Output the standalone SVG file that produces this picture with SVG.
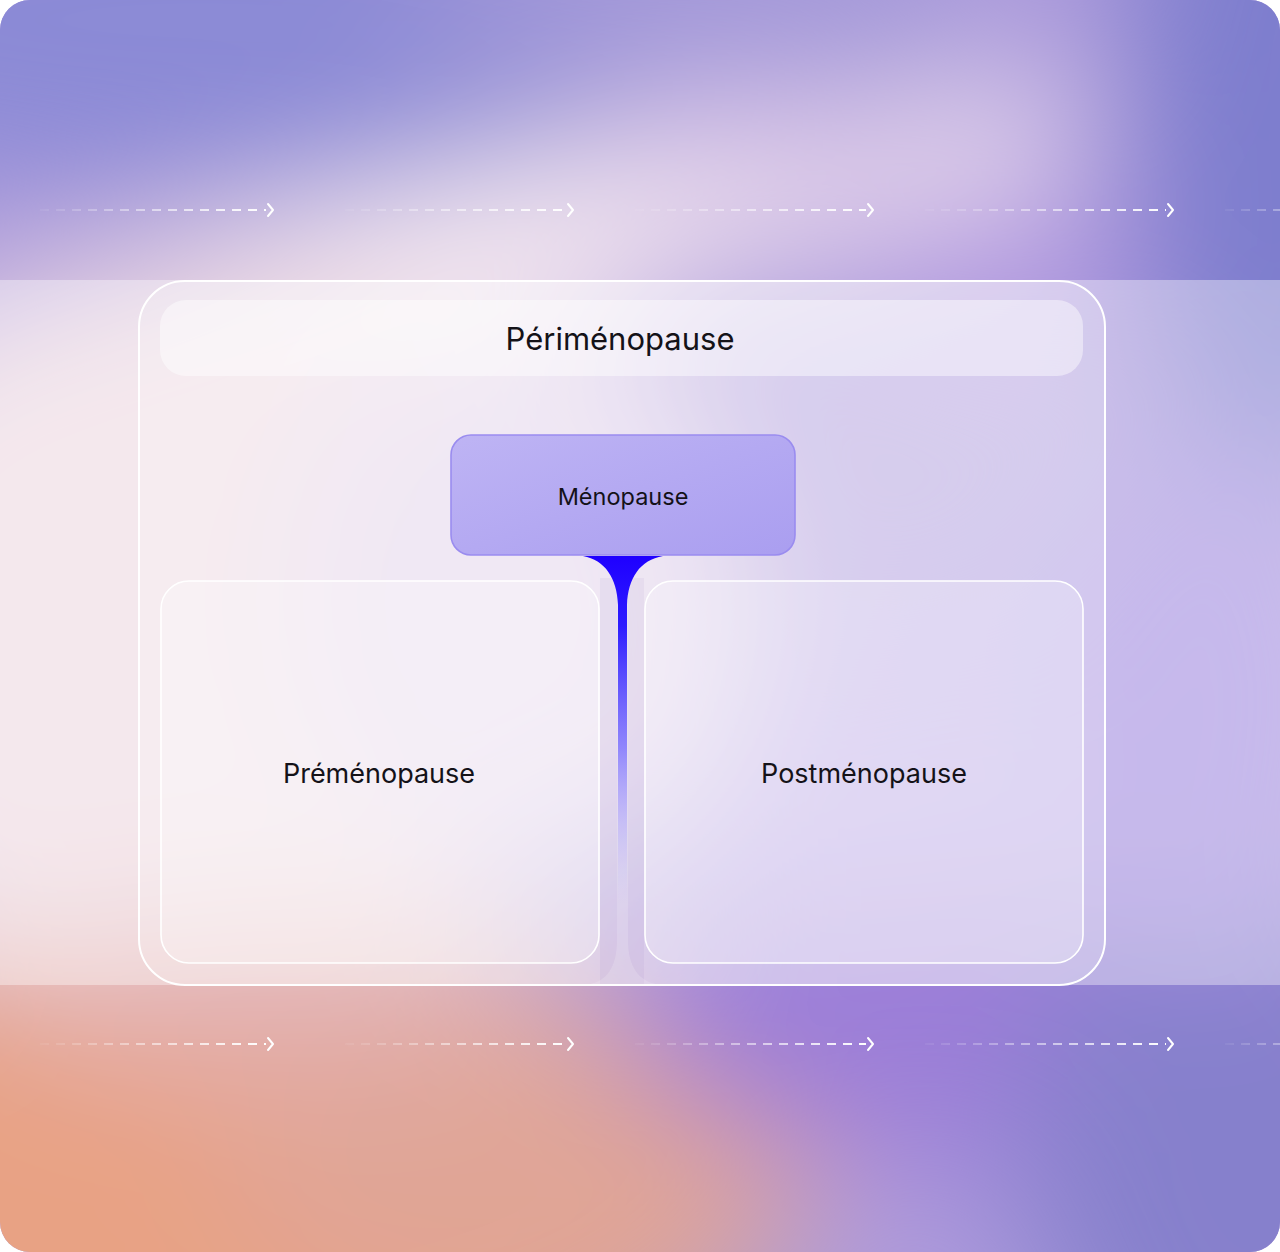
<svg xmlns="http://www.w3.org/2000/svg" width="1280" height="1252" viewBox="0 0 1280 1252">
<defs>
<style>
.lbl{font-family:Inter,"Open Sans","Liberation Sans",sans-serif;fill:#141218;text-anchor:middle;dominant-baseline:central}
.box{fill:#ffffff;fill-opacity:0.26;stroke:#ffffff;stroke-width:1.6}
.dash{fill:none;stroke-width:2;stroke-dasharray:9 7}
.chev{fill:none;stroke:#ffffff;stroke-width:2;stroke-linecap:round;stroke-linejoin:round}
</style>
<clipPath id="clip"><rect x="0" y="0" width="1280" height="1252" rx="30"/></clipPath>
<filter id="blur" x="-50%" y="-50%" width="200%" height="200%"><feGaussianBlur stdDeviation="70"/></filter>
<linearGradient id="d1" gradientUnits="userSpaceOnUse" x1="40" y1="0" x2="266" y2="0"><stop offset="0" stop-color="#fff" stop-opacity="0.05"/><stop offset="1" stop-color="#fff" stop-opacity="1"/></linearGradient>
<linearGradient id="d2" gradientUnits="userSpaceOnUse" x1="345" y1="0" x2="566" y2="0"><stop offset="0" stop-color="#fff" stop-opacity="0.05"/><stop offset="1" stop-color="#fff" stop-opacity="1"/></linearGradient>
<linearGradient id="d3" gradientUnits="userSpaceOnUse" x1="635" y1="0" x2="866" y2="0"><stop offset="0" stop-color="#fff" stop-opacity="0.05"/><stop offset="1" stop-color="#fff" stop-opacity="1"/></linearGradient>
<linearGradient id="d4" gradientUnits="userSpaceOnUse" x1="925" y1="0" x2="1166" y2="0"><stop offset="0" stop-color="#fff" stop-opacity="0.05"/><stop offset="1" stop-color="#fff" stop-opacity="1"/></linearGradient>
<linearGradient id="d5" gradientUnits="userSpaceOnUse" x1="1225" y1="0" x2="1400" y2="0"><stop offset="0" stop-color="#fff" stop-opacity="0.05"/><stop offset="1" stop-color="#fff" stop-opacity="1"/></linearGradient>
<linearGradient id="stem" gradientUnits="userSpaceOnUse" x1="0" y1="556" x2="0" y2="905">
<stop offset="0" stop-color="#1f00ff"/>
<stop offset="0.2" stop-color="#2d1cff"/>
<stop offset="0.55" stop-color="#7a70ff" stop-opacity="0.8"/>
<stop offset="1" stop-color="#c8c0ff" stop-opacity="0"/>
</linearGradient>
<linearGradient id="meno" x1="0" y1="0" x2="1" y2="1">
<stop offset="0" stop-color="#beb4f4"/>
<stop offset="1" stop-color="#aa9ef0"/>
</linearGradient>
</defs>

<g id="background" clip-path="url(#clip)">
<rect x="0" y="0" width="1280" height="1252" fill="#ad9bdc"/>
<g filter="url(#blur)">
<ellipse cx="200" cy="20" rx="520" ry="170" fill="#8b8ad6"/>
<ellipse cx="700" cy="0" rx="300" ry="90" fill="#a097d8"/>
<ellipse cx="1020" cy="220" rx="200" ry="140" fill="#b29ae0"/>
<ellipse cx="1290" cy="120" rx="170" ry="380" fill="#7e7ece"/>
<ellipse cx="480" cy="250" rx="620" ry="80" fill="#f6eaf0" transform="rotate(-12 480 250)"/>
<ellipse cx="760" cy="150" rx="180" ry="55" fill="#dcc8e8"/>
<ellipse cx="180" cy="640" rx="420" ry="380" fill="#eedae2"/>
<ellipse cx="520" cy="600" rx="230" ry="280" fill="#e2d2ea"/>
<ellipse cx="950" cy="850" rx="260" ry="240" fill="#ad96e2"/>
<ellipse cx="150" cy="1200" rx="620" ry="250" fill="#e8a284"/>
<ellipse cx="300" cy="1000" rx="300" ry="80" fill="#e2b0b0"/>
<ellipse cx="520" cy="1180" rx="300" ry="140" fill="#e0a596"/>
<ellipse cx="940" cy="1020" rx="300" ry="140" fill="#9b7ed8"/>
<ellipse cx="1250" cy="1150" rx="230" ry="300" fill="#8680cc"/>
<ellipse cx="1200" cy="700" rx="180" ry="260" fill="#a48fe0"/>
</g>
<rect x="0" y="280" width="1280" height="705" fill="#ffffff" fill-opacity="0.38"/>
</g>

<g id="arrows">
<g id="arrows-top">
<line class="dash" x1="40" y1="210" x2="266" y2="210" stroke="url(#d1)"/>
<path class="chev" d="M268,204 L273,210 L268,216"/>
<line class="dash" x1="345" y1="210" x2="566" y2="210" stroke="url(#d2)"/>
<path class="chev" d="M568,204 L573,210 L568,216"/>
<line class="dash" x1="635" y1="210" x2="866" y2="210" stroke="url(#d3)"/>
<path class="chev" d="M868,204 L873,210 L868,216"/>
<line class="dash" x1="925" y1="210" x2="1166" y2="210" stroke="url(#d4)"/>
<path class="chev" d="M1168,204 L1173,210 L1168,216"/>
<line class="dash" x1="1225" y1="210" x2="1290" y2="210" stroke="url(#d5)"/>
</g>
<g id="arrows-bottom">
<line class="dash" x1="40" y1="1044" x2="266" y2="1044" stroke="url(#d1)"/>
<path class="chev" d="M268,1038 L273,1044 L268,1050"/>
<line class="dash" x1="345" y1="1044" x2="566" y2="1044" stroke="url(#d2)"/>
<path class="chev" d="M568,1038 L573,1044 L568,1050"/>
<line class="dash" x1="635" y1="1044" x2="866" y2="1044" stroke="url(#d3)"/>
<path class="chev" d="M868,1038 L873,1044 L868,1050"/>
<line class="dash" x1="925" y1="1044" x2="1166" y2="1044" stroke="url(#d4)"/>
<path class="chev" d="M1168,1038 L1173,1044 L1168,1050"/>
<line class="dash" x1="1225" y1="1044" x2="1290" y2="1044" stroke="url(#d5)"/>
</g>
</g>

<g id="perimenopause">
<rect x="139" y="281" width="966" height="704" rx="46" fill="#ffffff" fill-opacity="0.2" stroke="#ffffff" stroke-width="2"/>
<rect x="160" y="300" width="923" height="76" rx="26" fill="#ffffff" fill-opacity="0.45"/>
<text class="lbl" x="620" y="338" font-size="31">Périménopause</text>
</g>

<g id="groove">
<rect x="600" y="578" width="44" height="406" fill="#6a4aa8" fill-opacity="0.06"/>
<path d="M617,580 L617,940 C617,968 606,981 590,984 L656,984 C640,981 628,968 628,940 L628,580 Z" fill="#ffffff" fill-opacity="0.16"/>
</g>

<g id="premenopause">
<rect class="box" x="161" y="581" width="438" height="382" rx="28"/>
<text class="lbl" x="379" y="773" font-size="27">Préménopause</text>
</g>

<g id="postmenopause">
<rect class="box" x="645" y="581" width="438" height="382" rx="28"/>
<text class="lbl" x="864" y="773" font-size="27">Postménopause</text>
</g>

<g id="connectors">
<path d="M583,556 C605,560 617,578 618,605 L618,905 L627,905 L627,605 C628,578 640,560 663,556 Z" fill="url(#stem)"/>
</g>

<g id="menopause">
<rect x="451" y="435" width="344" height="120" rx="20" fill="url(#meno)" stroke="#9a8cef" stroke-width="1.6"/>
<text class="lbl" x="623" y="496" font-size="23.5">Ménopause</text>
</g>
</svg>
